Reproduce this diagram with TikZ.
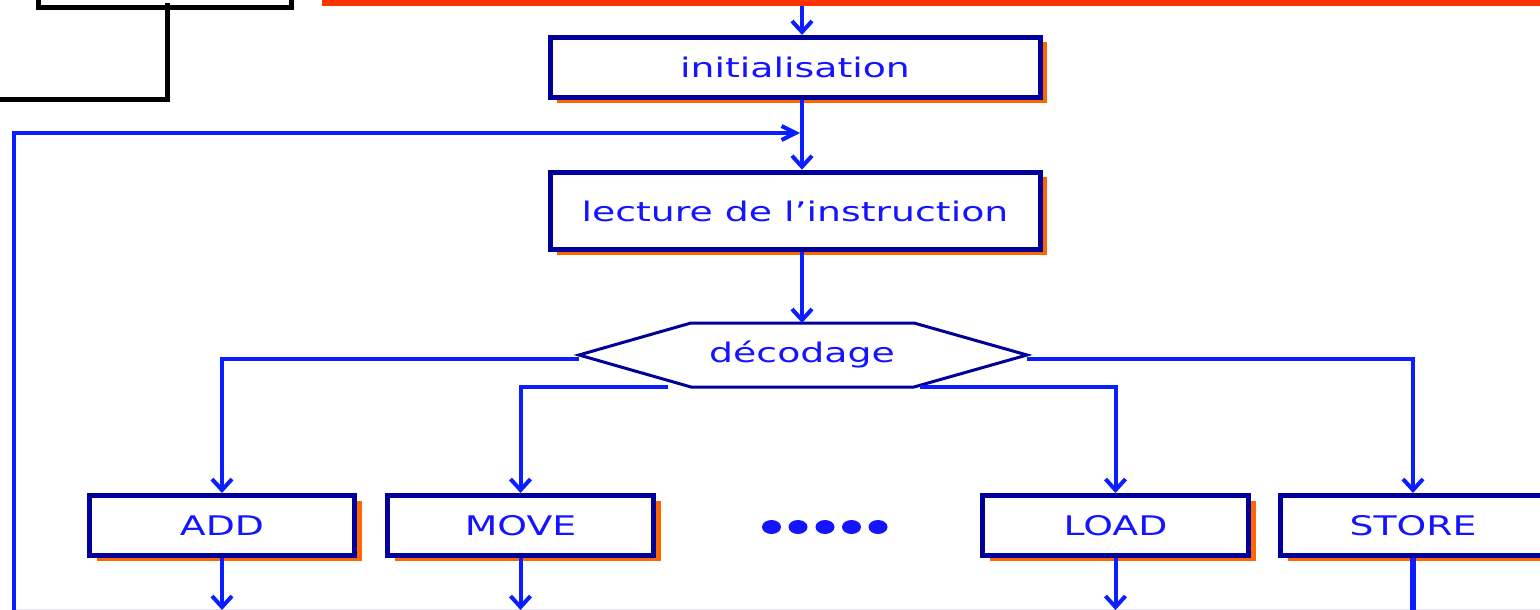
\documentclass[tikz,border=0pt]{standalone}
\usepackage{fontspec}
\setmainfont[FakeStretch=1.4]{DejaVu Sans}
\usetikzlibrary{arrows.meta,shadows,calc}

\definecolor{boxnavy}{HTML}{000099}
\definecolor{linkblue}{HTML}{0A1EFF}
\definecolor{txtblue}{HTML}{1414FF}
\definecolor{shorange}{HTML}{FF6600}
\definecolor{topred}{HTML}{FF3300}
\definecolor{faintline}{RGB}{228,228,244}

\tikzset{
  every node/.style={font=\fontsize{27}{32}\selectfont},
  stepbox/.style={draw=boxnavy, line width=5pt, fill=white, text=txtblue,
    inner sep=0pt, minimum height=60pt,
    general shadow={fill=shorange, shadow xshift=7pt, shadow yshift=-5pt}},
  link/.style={draw=linkblue, line width=4pt},
  arr/.style={link, -{Straight Barb[length=11pt,width=20pt]}},
  harr/.style={link, -{Straight Barb[length=14pt,width=14pt]}},
}

\begin{document}
\begin{tikzpicture}[x=1pt,y=-1pt]
\useasboundingbox (0,0) rectangle (1540,610);
\clip (0,0) rectangle (1540,610);

% frames continuing above the visible area
\draw[black, line width=5pt] (38.5,-30) rectangle (291,8);
\draw[black, line width=5pt] (167,3) -- (167,99) -- (-5,99);
\draw[topred, line width=6pt] (324.5,-30) rectangle (1570,3);

% faint bottom rule
\draw[faintline, line width=1pt] (14,609.5) -- (1540,609.5);

% reference points
\coordinate (spine) at (802,0);
\coordinate (topbar) at (802,6);
\coordinate (join) at (802,133);
\coordinate (loopStart) at (14,620);

% process boxes
\node[stepbox, minimum width=490pt, minimum height=60pt] (init) at (795,67.5) {initialisation};
\node[stepbox, minimum width=490pt, minimum height=77.5pt] (lec) at (795,211) {lecture de l’instruction};

% decoding hexagon
\coordinate (hW)  at (579,355);
\coordinate (hNW) at (691,323);
\coordinate (hN)  at (802,323);
\coordinate (hNE) at (914,323);
\coordinate (hE)  at (1027,355);
\coordinate (hSE) at (914,387);
\coordinate (hSW) at (691,387);
\fill[shorange, shift={(4,3)}] (hW) -- (hNW) -- (hNE) -- (hE) -- (hSE) -- (hSW) -- cycle;
\filldraw[fill=white, draw=boxnavy, line width=3pt, line join=miter]
  (hW) -- (hNW) -- (hNE) -- (hE) -- (hSE) -- (hSW) -- cycle;
\node[text=txtblue, inner sep=0pt] (dec) at (802,355) {décodage};

\coordinate (decW)  at (579,359);
\coordinate (decE)  at (1027,359);
\coordinate (decBL) at (668,387);
\coordinate (decBR) at (920,387);

% instruction boxes
\node[stepbox, minimum width=265pt] (add)   at (222,525.5)    {ADD};
\node[stepbox, minimum width=266pt] (move)  at (520.5,525.5)  {MOVE};
\node[stepbox, minimum width=266pt] (load)  at (1115.5,525.5) {LOAD};
\node[stepbox, minimum width=265pt] (store) at (1413,525.5)   {STORE};

% ellipsis between the instruction boxes
\foreach \dx in {771.5,798,825,851.5,878}
  \fill[txtblue] (\dx,527) ellipse [x radius=9.5, y radius=7];

% main flow
\draw[arr] (topbar) -- (init.north -| spine);
\draw[arr] (init.south -| spine) -- (lec.north -| spine);
\draw[arr] (lec.south -| spine) -- (hN);

% loop back from the bottom
\draw[harr, line join=miter] (loopStart) |- ([xshift=-2pt]join);

% branches of the decoder
\draw[arr] (decW)  -| (add.north);
\draw[arr] (decBL) -| (move.north);
\draw[arr] (decBR) -| (load.north);
\draw[arr] (decE)  -| (store.north);

% exits of the instruction boxes
\coordinate (addEnd)   at (add.south |- 0,610);
\coordinate (moveEnd)  at (move.south |- 0,610);
\coordinate (loadEnd)  at (load.south |- 0,610);
\coordinate (storeEnd) at (store.south |- 0,620);
\draw[arr] (add.south) -- (addEnd);
\draw[arr] (move.south) -- (moveEnd);
\draw[arr] (load.south) -- (loadEnd);
\draw[link, line width=5.5pt] (store.south) -- (storeEnd);
\end{tikzpicture}
\end{document}
